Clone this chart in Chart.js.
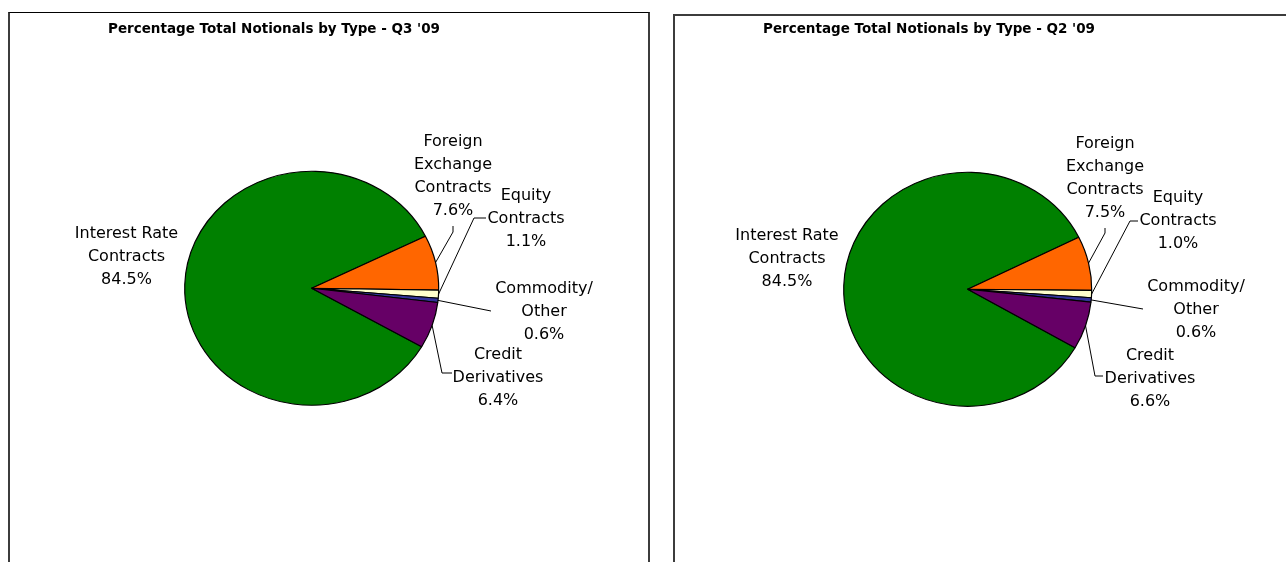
<!DOCTYPE html>
<html>
<head>
<meta charset="utf-8">
<script src="https://cdn.jsdelivr.net/npm/chart.js@4.4.1/dist/chart.umd.min.js"></script>
<style>
  html,body{margin:0;padding:0;background:#fff;overflow:hidden;width:1286px;height:562px}
  .box{position:absolute;box-sizing:border-box;height:620px}
  #box1{left:8px;top:12px;width:642px;border-top:1px solid #000;border-left:2px solid #3c3c3c;border-right:2px solid #3c3c3c}
  #box2{left:673px;top:14px;width:700px;border-top:2px solid #3c3c3c;border-left:2px solid #3c3c3c}
  canvas{position:absolute;left:0;top:0}
</style>
</head>
<body>
<div class="box" id="box1"></div>
<div class="box" id="box2"></div>
<canvas id="q3Chart" width="1286" height="562"></canvas>
<canvas id="q2Chart" width="1286" height="562"></canvas>
<script>
// Data
const categories = ['Interest Rate Contracts','Foreign Exchange Contracts','Equity Contracts','Commodity/ Other','Credit Derivatives'];
const labelLines = [['Interest Rate','Contracts'],['Foreign','Exchange','Contracts'],['Equity','Contracts'],['Commodity/','Other'],['Credit','Derivatives']];
const q3Values = [84.5,7.6,1.1,0.6,6.4];
const q2Values = [84.5,7.5,1.0,0.6,6.6];
const titles = ["Percentage Total Notionals by Type - Q3 '09","Percentage Total Notionals by Type - Q2 '09"];
const colors = ['#008000','#ff6600','#ffffcc','#333399','#660066'];

// Layout (page pixels): pie centre, radii, title and label placement
const W = 1286, H = 562;
const layouts = [
  {cx:311.7, cy:288.3, rx:127, ry:117, titleX:274, titleY:29,
   labels:[
     {x:126.5,y:234},
     {x:453,y:142,path:[[453,232],[453,226]]},
     {x:526,y:196,path:[[474,218],[486,218]]},
     {x:544,y:289,path:[[491,311]]},
     {x:498,y:355,path:[[442,373],[452,373]]}
   ]},
  {cx:967.7, cy:289.3, rx:124, ry:117, titleX:929, titleY:29,
   labels:[
     {x:787,y:236},
     {x:1105,y:144,path:[[1105,233],[1105,228]]},
     {x:1178,y:198,path:[[1130,221],[1138,221]]},
     {x:1196,y:287,path:[[1143,309]]},
     {x:1150,y:356,path:[[1095,376],[1103,376]]}
   ]}
];

const LINE_H = 22.8;
const labelFont = '16px "DejaVu Sans", Verdana, sans-serif';
const titleFont = 'bold 13.5px "DejaVu Sans", Verdana, sans-serif';

function piePlugins(values, title, lay) {
  const sy = lay.ry / lay.rx;
  return [{
    id:'ellipse',
    beforeDatasetsDraw(chart) {
      const a = chart.getDatasetMeta(0).data[0];
      const ctx = chart.ctx;
      ctx.save();
      ctx.translate(a.x, a.y); ctx.scale(1, sy); ctx.translate(-a.x, -a.y);
    },
    afterDatasetsDraw(chart) { chart.ctx.restore(); }
  },{
    id:'sliceLabels',
    afterDraw(chart) {
      const ctx = chart.ctx;
      const arcs = chart.getDatasetMeta(0).data;
      ctx.save();
      // title
      ctx.fillStyle = '#000';
      ctx.font = titleFont;
      ctx.textAlign = 'center';
      ctx.textBaseline = 'middle';
      ctx.fillText(title, lay.titleX, lay.titleY);
      // leader lines
      ctx.strokeStyle = '#000';
      ctx.lineWidth = 1;
      lay.labels.forEach((l, i) => {
        if (!l.path) return;
        const a = arcs[i];
        const mid = (a.startAngle + a.endAngle) / 2;
        ctx.beginPath();
        ctx.moveTo(a.x + a.outerRadius * Math.cos(mid), a.y + a.outerRadius * Math.sin(mid) * sy);
        l.path.forEach(p => ctx.lineTo(p[0], p[1]));
        ctx.stroke();
      });
      // label text
      ctx.font = labelFont;
      lay.labels.forEach((l, i) => {
        const lines = labelLines[i].concat([values[i].toFixed(1) + '%']);
        lines.forEach((t, k) => ctx.fillText(t, l.x, l.y + k * LINE_H));
      });
      ctx.restore();
    }
  }];
}

function makePie(id, values, title, lay) {
  const padL = lay.cx > W/2 ? 2*lay.cx - W : 0;
  const padR = lay.cx < W/2 ? W - 2*lay.cx : 0;
  const padT = lay.cy > H/2 ? 2*lay.cy - H : 0;
  const padB = lay.cy < H/2 ? H - 2*lay.cy : 0;
  return new Chart(document.getElementById(id), {
    type:'pie',
    data:{
      labels:categories,
      datasets:[{data:values,backgroundColor:colors,borderColor:'#000',borderWidth:1.2,radius:lay.rx,hoverOffset:0}]
    },
    options:{
      responsive:false,animation:false,rotation:120,
      layout:{padding:{left:padL,right:padR,top:padT,bottom:padB}},
      plugins:{legend:{display:false},title:{display:false},tooltip:{enabled:false}},
      events:[]
    },
    plugins:piePlugins(values, title, lay)
  });
}

makePie('q3Chart', q3Values, titles[0], layouts[0]);
makePie('q2Chart', q2Values, titles[1], layouts[1]);
</script>
</body>
</html>
